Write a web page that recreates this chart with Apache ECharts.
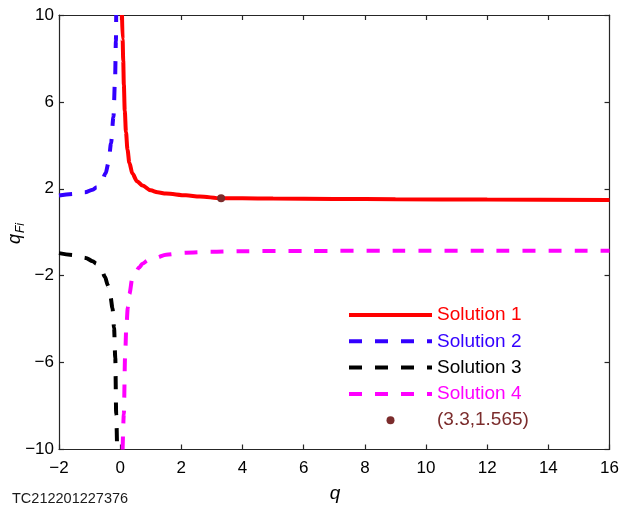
<!DOCTYPE html>
<html>
<head>
<meta charset="utf-8">
<script src="https://cdn.jsdelivr.net/npm/echarts@6/dist/echarts.min.js"></script>
<style>
  html, body { margin: 0; padding: 0; background: #fff; }
  #chart { width: 622px; height: 510px; }
</style>
</head>
<body>
<div id="chart"></div>
<script>
// values
const sol1Q = [0.06, 0.08, 0.1, 0.12, 0.15, 0.19, 0.24, 0.3, 0.4, 0.55, 0.73, 1.0, 1.22, 1.5, 2.15, 2.6, 3.3, 4, 5, 7, 9, 12, 16];
const sol1Y = [10, 8.9, 7.9, 6.8, 5.6, 4.6, 3.8, 3.2, 2.7, 2.35, 2.15, 1.93, 1.84, 1.78, 1.7, 1.645, 1.565, 1.56, 1.55, 1.535, 1.52, 1.505, 1.49];

const sol2Q = [-2, -1.5, -1.15, -0.9, -0.77, -0.6, -0.48, -0.38, -0.3, -0.22, -0.165, -0.14, -0.13];
const sol2Y = [1.69, 1.76, 1.84, 1.96, 2.07, 2.35, 2.7, 3.2, 4.08, 5.3, 7.15, 8.8, 10];

const sol3Q = [-2, -1.5, -1.13, -0.9, -0.78, -0.6, -0.5, -0.4, -0.32, -0.25, -0.2, -0.16, -0.13, -0.1];
const sol3Y = [-0.96, -1.05, -1.18, -1.33, -1.45, -1.75, -2.05, -2.45, -2.95, -3.5, -4.4, -5.77, -8.37, -10];

const sol4Q = [0.08, 0.12, 0.16, 0.2, 0.25, 0.3, 0.4, 0.5, 0.62, 0.73, 0.9, 1.18, 1.5, 2.15, 3, 4, 6, 9, 12, 16];
const sol4Y = [-10, -8.37, -5.77, -4.4, -3.46, -2.85, -2.1, -1.85, -1.62, -1.45, -1.3, -1.17, -1.03, -0.94, -0.9, -0.87, -0.86, -0.85, -0.85, -0.85];

const markPoint = [3.3, 1.565];

const seriesNames = ['Solution 1', 'Solution 2', 'Solution 3', 'Solution 4'];
const seriesColors = ['#ff0000', '#3300ff', '#000000', '#ff00ff'];
const markName = '(3.3,1.565)';
const markColor = '#7b2c2c';

const font = 'Liberation Sans, Arial, sans-serif';
const zip = (a, b) => a.map((v, i) => [v, b[i]]);
const minus = v => String(v).replace('-', '\u2212');
const dash = i => (i === 0 ? 'solid' : [13, 13]);

const chart = echarts.init(document.getElementById('chart'));

const axisCommon = {
    type: 'value',
    axisLine: { show: true, onZero: false, lineStyle: { color: '#262626', width: 1.2 } },
    axisTick: { show: true, inside: true, length: 5, lineStyle: { color: '#262626', width: 1.2 } },
    splitLine: { show: false }
};

const lines = [zip(sol1Q, sol1Y), zip(sol2Q, sol2Y), zip(sol3Q, sol3Y), zip(sol4Q, sol4Y)];

chart.setOption({
    animation: false,
    backgroundColor: '#fff',
    grid: { left: 59, right: 8, top: 15, bottom: 60.5 },
    xAxis: [
        Object.assign({}, axisCommon, {
            min: -2, max: 16, interval: 2, position: 'bottom',
            axisLabel: { color: '#000', fontSize: 17, fontFamily: font, margin: 10, formatter: minus }
        }),
        Object.assign({}, axisCommon, {
            min: -2, max: 16, interval: 2, position: 'top',
            axisLabel: { show: false }
        })
    ],
    yAxis: [
        Object.assign({}, axisCommon, {
            min: -10, max: 10, interval: 4, position: 'left',
            axisLabel: { color: '#000', fontSize: 17, fontFamily: font, margin: 5, formatter: minus }
        }),
        Object.assign({}, axisCommon, {
            min: -10, max: 10, interval: 4, position: 'right',
            axisLabel: { show: false }
        })
    ],
    legend: {
        orient: 'vertical',
        left: 347,
        top: 305.5,
        padding: 0,
        itemWidth: 83,
        itemHeight: 8,
        itemGap: 7.3,
        textStyle: { fontSize: 19, fontFamily: font },
        data: seriesNames.map((n, i) => ({
            name: n,
            itemStyle: { opacity: 0 },
            lineStyle: { width: 4, color: seriesColors[i], type: dash(i) },
            textStyle: { color: seriesColors[i] }
        })).concat([{ name: markName, icon: 'circle', itemStyle: { color: markColor }, textStyle: { color: markColor } }])
    },
    graphic: [
        { type: 'text', x: 335, y: 494, style: { text: 'q', font: 'italic 19px ' + font, fill: '#000', textAlign: 'center', textVerticalAlign: 'middle' } },
        { type: 'text', x: 14.7, y: 244, rotation: Math.PI / 2, style: { text: 'q', font: 'italic 18px ' + font, fill: '#000', textAlign: 'left', textVerticalAlign: 'middle' } },
        { type: 'text', x: 20.8, y: 233, rotation: Math.PI / 2, style: { text: 'Fi', font: 'italic 12px ' + font, fill: '#000', textAlign: 'left', textVerticalAlign: 'middle' } },
        { type: 'text', x: 12, y: 499, style: { text: 'TC212201227376', font: '14.5px ' + font, fill: '#1a1a1a', textAlign: 'left', textVerticalAlign: 'middle' } }
    ],
    series: lines.map((d, i) => ({
        name: seriesNames[i],
        type: 'line',
        data: d,
        showSymbol: false,
        symbol: 'none',
        smooth: 0.3,
        smoothMonotone: 'x',
        clip: true,
        color: seriesColors[i],
        lineStyle: { color: seriesColors[i], width: 4, type: dash(i) },
        z: 2
    })).concat([{
        name: markName,
        type: 'scatter',
        data: [markPoint],
        symbol: 'circle',
        symbolSize: 8,
        itemStyle: { color: markColor, opacity: 1 },
        z: 5
    }])
});
</script>
</body>
</html>
